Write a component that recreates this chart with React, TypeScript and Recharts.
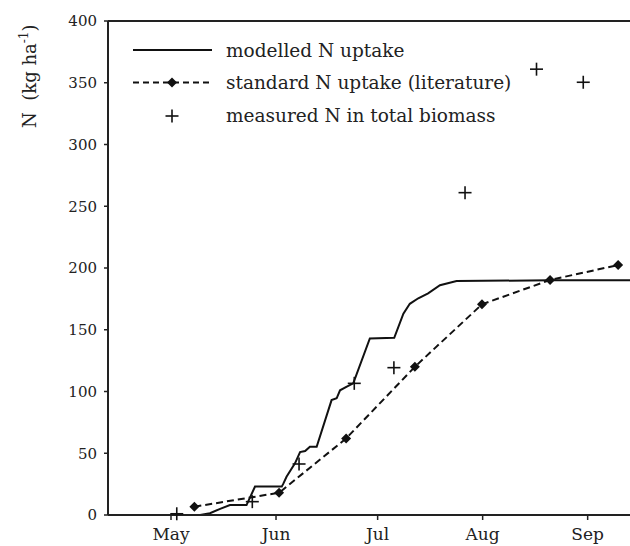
import {
  ComposedChart,
  Line,
  Scatter,
  XAxis,
  YAxis,
  ReferenceLine,
  Customized,
} from "recharts";

// day of year on x, N in kg/ha on y
const modelDoy = [107.9, 129.6, 132.5, 135.5, 138.4, 143.3, 145.8, 153.7, 154.2, 155.1, 157.6, 159.1, 160.6, 162.0, 164.0, 168.4, 169.9, 170.9, 172.9, 174.8, 179.7, 186.9, 189.6, 191.5, 194.0, 196.9, 200.4, 205.3, 232.9, 256.5];
const modelN = [0, 0, 1.4, 5, 8, 8, 23, 23, 25.6, 31, 41.8, 51, 51.8, 55.3, 55.3, 93, 94.5, 101, 104, 106.6, 143, 143.5, 163, 171, 175.5, 179.5, 186, 189.5, 190, 190];

const litDoy = [127.9, 152.9, 172.7, 193.0, 212.8, 232.9, 253.0];
const litN = [6.7, 18, 62, 120, 170.6, 190.3, 202.4];

const measDoy = [122.7, 145.0, 158.8, 175.1, 186.8, 207.8, 228.9, 242.7];
const measN = [1, 10.8, 41.3, 106.6, 119.3, 261, 361, 350.4];

const monthTicks = [121, 152, 182, 213, 244];
const monthLabels = ["May", "Jun", "Jul", "Aug", "Sep"];
const yTicks = [0, 50, 100, 150, 200, 250, 300, 350, 400];

const modelData = modelDoy.map((doy, i) => ({ doy, n: modelN[i] }));
const litData = litDoy.map((doy, i) => ({ doy, n: litN[i] }));
const measData = measDoy.map((doy, i) => ({ doy, n: measN[i] }));

const FONT = "'DejaVu Serif', serif";
const INK = "#111";

const Diamond = ({ cx, cy, r = 5 }: { cx: number; cy: number; r?: number }) => (
  <path d={`M${cx},${cy - r}L${cx + r},${cy}L${cx},${cy + r}L${cx - r},${cy}Z`} fill={INK} />
);

const Cross = ({ cx, cy, r = 6.5 }: { cx: number; cy: number; r?: number }) => (
  <g stroke={INK} strokeWidth={1.6}>
    <line x1={cx - r} y1={cy} x2={cx + r} y2={cy} />
    <line x1={cx} y1={cy - r} x2={cx} y2={cy + r} />
  </g>
);

const Decorations = () => (
  <g fontFamily={FONT} fill="#222">
    {/* y axis title */}
    <text x={35.5} y={128} fontSize={18} transform="rotate(-90 35.5 128)">
      N{"\u00a0\u00a0"}(kg ha<tspan fontSize={12} dy={-8}>-1</tspan>
      <tspan dy={8}>)</tspan>
    </text>
    {/* legend */}
    <g fontSize={18.5}>
      <line x1={133} x2={212} y1={50} y2={50} stroke={INK} strokeWidth={2} />
      <text x={226} y={56.5}>modelled N uptake</text>
      <line x1={133} x2={212} y1={82.5} y2={82.5} stroke={INK} strokeWidth={2} strokeDasharray="6 4" />
      <Diamond cx={172} cy={82.5} />
      <text x={226} y={88.5}>standard N uptake (literature)</text>
      <Cross cx={172} cy={116} />
      <text x={226} y={121.5}>measured N in total biomass</text>
    </g>
  </g>
);

export default function App() {
  return (
    <div style={{ position: "absolute", left: 0, top: 0, background: "#fff" }}>
      <ComposedChart
        width={630}
        height={546}
        margin={{ top: 21, right: 0, left: 0, bottom: 0 }}
      >
        <XAxis
          type="number"
          dataKey="doy"
          domain={[102.4, 256.5]}
          allowDataOverflow
          ticks={monthTicks}
          tickFormatter={(v: number) => monthLabels[monthTicks.indexOf(v)] ?? ""}
          height={31}
          tickSize={5}
          tickMargin={8}
          axisLine={{ stroke: "#222", strokeWidth: 2 }}
          tickLine={{ stroke: "#222", strokeWidth: 1.5 }}
          tick={{ fill: "#222", fontSize: 17, fontFamily: FONT }}
        />
        <YAxis
          type="number"
          domain={[0, 400]}
          ticks={yTicks}
          width={108}
          tickSize={4}
          tickMargin={7}
          axisLine={{ stroke: "#222", strokeWidth: 2 }}
          tickLine={{ stroke: "#222", strokeWidth: 1.5 }}
          tick={{ fill: "#222", fontSize: 15, fontFamily: FONT }}
        />
        <ReferenceLine y={400} stroke="#222" strokeWidth={2} />
        <Line
          data={litData}
          dataKey="n"
          type="linear"
          stroke={INK}
          strokeWidth={2}
          strokeDasharray="7 4"
          dot={(p: any) => <Diamond key={`d${p.index}`} cx={p.cx} cy={p.cy} />}
          activeDot={false}
          isAnimationActive={false}
        />
        <Line
          data={modelData}
          dataKey="n"
          type="linear"
          stroke={INK}
          strokeWidth={2}
          dot={false}
          activeDot={false}
          isAnimationActive={false}
        />
        <Scatter
          data={measData}
          dataKey="n"
          shape={(p: any) => <Cross cx={p.cx} cy={p.cy} />}
          isAnimationActive={false}
        />
        <Customized component={Decorations} />
      </ComposedChart>
    </div>
  );
}
